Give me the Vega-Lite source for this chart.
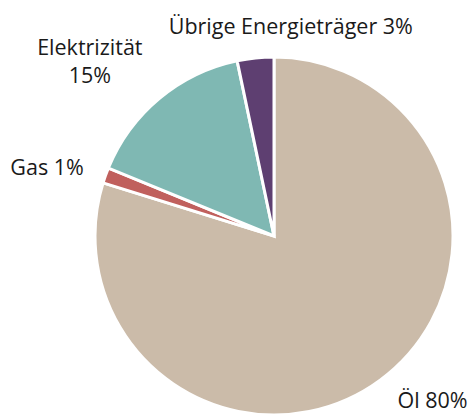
{
  "$schema": "https://vega.github.io/schema/vega-lite/v6.json",
  "width": 358,
  "height": 356,
  "autosize": "none",
  "padding": {"left": 95, "top": 58, "right": 19, "bottom": 0},
  "background": "white",
  "config": {"view": {"stroke": null}},
  "data": {"values": [
    {"cat": "Öl", "value": 79.8, "label": "Öl 80%", "rank": 1},
    {"cat": "Gas", "value": 1.4, "label": "Gas 1%", "rank": 2},
    {"cat": "Elektrizität", "value": 15.5, "label": ["Elektrizität", "15%"], "rank": 3},
    {"cat": "Übrige Energieträger", "value": 3.3, "label": "Übrige Energieträger 3%", "rank": 4}
  ]},
  "encoding": {
    "theta": {"field": "value", "type": "quantitative", "stack": true},
    "order": {"field": "rank", "type": "quantitative"},
    "detail": {"field": "cat", "type": "nominal"}
  },
  "layer": [
    {
      "mark": {"type": "arc", "outerRadius": 179, "stroke": "white", "strokeWidth": 3},
      "encoding": {
        "color": {"field": "cat", "type": "nominal", "legend": null,
          "scale": {"domain": ["Öl", "Gas", "Elektrizität", "Übrige Energieträger"],
                    "range": ["#cbbba9", "#c0605d", "#7fb8b3", "#5e3f71"]}}
      }
    },
    {
      "mark": {"type": "text", "radius": 215, "align": "left", "baseline": "alphabetic", "dx": -4, "dy": -1, "font": "Open Sans", "fontSize": 21.5, "color": "#1a1a1a"},
      "encoding": {"text": {"condition": {"test": "datum.cat === 'Öl'", "field": "label"}, "value": ""}}
    },
    {
      "mark": {"type": "text", "radius": 200, "align": "right", "baseline": "alphabetic", "dx": -2, "dy": 7, "font": "Open Sans", "fontSize": 21.5, "color": "#1a1a1a"},
      "encoding": {"text": {"condition": {"test": "datum.cat === 'Gas'", "field": "label"}, "value": ""}}
    },
    {
      "mark": {"type": "text", "radius": 230, "align": "center", "baseline": "alphabetic", "dx": -37, "dy": -4, "lineHeight": 28, "font": "Open Sans", "fontSize": 21.5, "color": "#1a1a1a"},
      "encoding": {"text": {"condition": {"test": "datum.cat === 'Elektrizität'", "field": "label"}, "value": ""}}
    },
    {
      "mark": {"type": "text", "radius": 205, "align": "center", "baseline": "alphabetic", "dx": 38, "dy": 2, "font": "Open Sans", "fontSize": 21.5, "color": "#1a1a1a"},
      "encoding": {"text": {"condition": {"test": "datum.cat === 'Übrige Energieträger'", "field": "label"}, "value": ""}}
    }
  ]
}
